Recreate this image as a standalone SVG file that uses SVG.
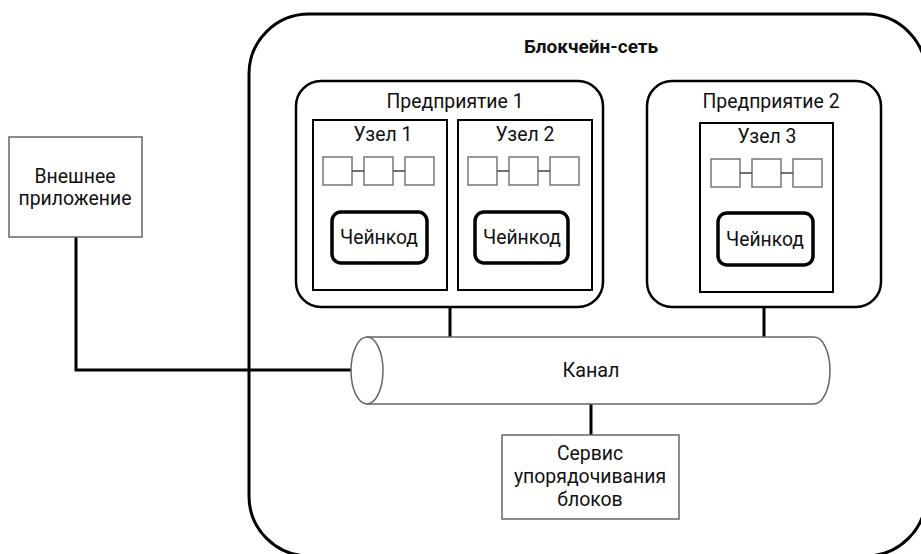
<svg xmlns="http://www.w3.org/2000/svg" width="921" height="554" viewBox="0 0 921 554">
  <style>
    text { font-family: Roboto, "Liberation Sans", sans-serif; fill: #111; text-anchor: middle; }
    .lbl { font-size: 19.4px; }
    .cctxt { font-size: 19.3px; }
    .title { font-size: 19px; font-weight: bold; }
    .frame { fill: #fff; stroke: #000; stroke-width: 3; }
    .org { fill: #fff; stroke: #000; stroke-width: 2.5; }
    .peer { fill: #fff; stroke: #000; stroke-width: 2; }
    .blk { fill: #fff; stroke: #777; stroke-width: 1.5; }
    .cc { fill: #fff; stroke: #000; stroke-width: 3.5; }
    .box { fill: #fff; stroke: #666; stroke-width: 1.5; }
    .pipe { fill: #fff; stroke: #666; stroke-width: 1.5; }
    .wire { fill: none; stroke: #000; stroke-width: 3; }
    .link { fill: none; stroke: #444; stroke-width: 1.5; }
  </style>
  <defs>
    <g id="chain">
      <rect class="blk" x="0" y="0" width="29" height="28"/>
      <rect class="blk" x="41" y="0" width="29" height="28"/>
      <rect class="blk" x="82" y="0" width="29" height="28"/>
      <path class="link" d="M29 14H41M70 14H82"/>
    </g>
  </defs>

  <rect width="921" height="554" fill="#fff"/>

  <g id="network">
    <rect class="frame" x="249" y="14" width="677" height="542" rx="60" ry="60"/>
    <text class="title" x="591" y="53">Блокчейн-сеть</text>
  </g>

  <g id="connectors">
    <path class="wire" d="M76 237V370H352"/>
    <path class="wire" d="M450 306V337"/>
    <path class="wire" d="M764 306V337"/>
    <path class="wire" d="M591 404V435"/>
  </g>

  <g id="org1">
    <rect class="org" x="296" y="81" width="307" height="226" rx="25" ry="25"/>
    <text class="lbl" x="455" y="108">Предприятие 1</text>
  </g>
  <g id="peer1">
    <rect class="peer" x="313" y="120" width="134" height="170"/>
    <text class="lbl" x="383" y="141">Узел 1</text>
    <use href="#chain" x="323" y="157"/>
    <rect class="cc" x="332" y="212" width="95" height="51" rx="9" ry="9"/>
    <text class="cctxt" x="379" y="244">Чейнкод</text>
  </g>
  <g id="peer2">
    <rect class="peer" x="458" y="120" width="134" height="170"/>
    <text class="lbl" x="525" y="141">Узел 2</text>
    <use href="#chain" x="468" y="157"/>
    <rect class="cc" x="475" y="212" width="93" height="51" rx="9" ry="9"/>
    <text class="cctxt" x="522" y="244">Чейнкод</text>
  </g>

  <g id="org2">
    <rect class="org" x="647" y="81" width="234" height="226" rx="25" ry="25"/>
    <text class="lbl" x="771" y="108">Предприятие 2</text>
  </g>
  <g id="peer3">
    <rect class="peer" x="700" y="123" width="133" height="169"/>
    <text class="lbl" x="767" y="143">Узел 3</text>
    <use href="#chain" x="711" y="159"/>
    <rect class="cc" x="718" y="213" width="95" height="52" rx="9" ry="9"/>
    <text class="cctxt" x="765" y="246">Чейнкод</text>
  </g>

  <g id="channel">
    <path class="pipe" d="M367 337H814A16 33.5 0 0 1 814 404H367Z"/>
    <ellipse class="pipe" cx="367" cy="370.5" rx="16" ry="33.5"/>
    <text class="lbl" x="591" y="377" style="font-size:19.8px">Канал</text>
  </g>

  <g id="app">
    <rect class="box" x="9" y="137" width="133" height="100"/>
    <text class="lbl" x="75" y="183">Внешнее</text>
    <text class="lbl" x="75" y="205">приложение</text>
  </g>

  <g id="orderer">
    <rect class="box" x="502" y="435" width="177" height="84"/>
    <text class="lbl" x="590" y="460">Сервис</text>
    <text class="lbl" x="590" y="483">упорядочивания</text>
    <text class="lbl" x="590" y="506">блоков</text>
  </g>
</svg>
